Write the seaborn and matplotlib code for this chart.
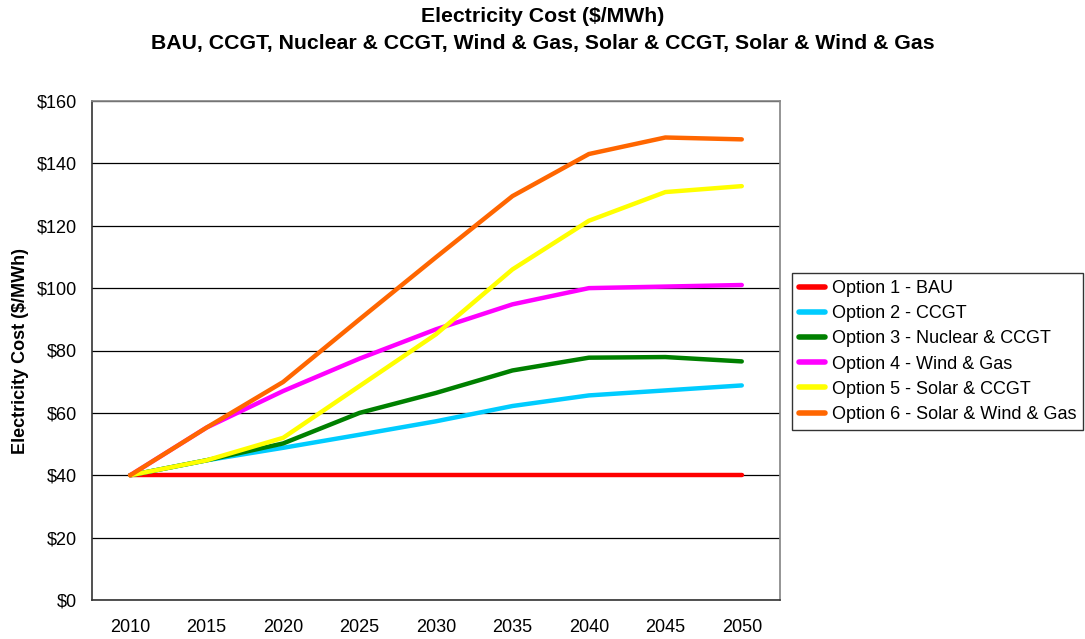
import matplotlib
matplotlib.use("Agg")
import matplotlib.pyplot as plt
import seaborn as sns
import pandas as pd
from matplotlib.ticker import FuncFormatter, FixedLocator

years = ["2010", "2015", "2020", "2025", "2030", "2035", "2040", "2045", "2050"]
opt1 = [40, 40, 40, 40, 40, 40, 40, 40, 40]
opt2 = [40, 44.8, 48.8, 53.0, 57.3, 62.2, 65.6, 67.2, 68.8]
opt3 = [40, 44.8, 50.2, 60.0, 66.4, 73.6, 77.7, 77.9, 76.5]
opt4 = [40, 55.3, 67.0, 77.4, 86.8, 94.8, 100.0, 100.5, 101.0]
opt5 = [40, 44.8, 52.0, 68.6, 85.2, 106.0, 121.6, 130.8, 132.7]
opt6 = [40, 55.3, 69.9, 90.0, 109.9, 129.5, 143.0, 148.3, 147.7]
names = ["Option 1 - BAU", "Option 2 - CCGT", "Option 3 - Nuclear & CCGT",
         "Option 4 - Wind & Gas", "Option 5 - Solar & CCGT", "Option 6 - Solar & Wind & Gas"]
colors = ["#FF0000", "#00CCFF", "#008000", "#FF00FF", "#FFFF00", "#FF6600"]

series = [opt1, opt2, opt3, opt4, opt5, opt6]
rows = []
for n, s in zip(names, series):
    for i, (y, v) in enumerate(zip(years, s)):
        rows.append({"pos": i, "Year": y, "Cost": v, "Option": n})
df = pd.DataFrame(rows)

sns.set_theme(style="white")
plt.rcParams["font.family"] = ["Liberation Sans", "DejaVu Sans"]
plt.rcParams["text.color"] = "black"
plt.rcParams["axes.labelcolor"] = "black"
plt.rcParams["xtick.color"] = "black"
plt.rcParams["ytick.color"] = "black"

fig = plt.figure(figsize=(10.85, 6.39), dpi=100)
ax = fig.add_axes([92/1085, 39/639, 688/1085, 499/639])

sns.lineplot(data=df, x="pos", y="Cost", hue="Option", hue_order=names,
             palette=colors, linewidth=3.2, ax=ax, sort=False, legend=True)

ax.set_xlim(-0.5, 8.5)
ax.set_ylim(0, 160)
ax.set_yticks(range(0, 161, 20))
ax.yaxis.set_major_formatter(FuncFormatter(lambda v, p: f"${int(v)}"))
ax.grid(axis="y", color="#000000", linewidth=0.9)
ax.set_axisbelow(True)

ax.set_xticks(range(len(years)))
ax.set_xticklabels(years)
ax.xaxis.set_minor_locator(FixedLocator([i - 0.5 for i in range(len(years) + 1)]))
ax.tick_params(axis="x", which="major", length=0, labelsize=13, pad=14, labelcolor="black")
ax.tick_params(axis="x", which="minor", length=5, width=1, color="#333333", direction="out")
ax.tick_params(axis="y", which="major", length=5, width=1, color="#333333", labelsize=13,
               direction="out", pad=6, labelcolor="black")

for side in ["left", "bottom"]:
    ax.spines[side].set_color("#333333")
    ax.spines[side].set_linewidth(1.2)
ax.spines["right"].set_color("#888888")
ax.spines["top"].set_color("#888888")

ax.set_xlabel("")
ax.set_ylabel("Electricity Cost ($/MWh)", fontsize=13, fontweight="bold", labelpad=5.5,
              color="black")

fig.text(0.5, 1 - 17/639, "Electricity Cost ($/MWh)", ha="center", va="center",
         fontsize=15.3, fontweight="bold", color="black")
fig.text(0.5, 1 - 44/639,
         "BAU, CCGT, Nuclear & CCGT, Wind & Gas, Solar & CCGT, Solar & Wind & Gas",
         ha="center", va="center", fontsize=15.3, fontweight="bold", color="black")

leg = ax.legend(loc="upper left", bbox_to_anchor=(792/1085, 1 - 273/639),
                bbox_transform=fig.transFigure, frameon=True, fancybox=False,
                edgecolor="black", fontsize=13, handlelength=1.45, handletextpad=0.35,
                borderpad=0.4, labelspacing=0.45, borderaxespad=0)
leg.get_frame().set_linewidth(1.0)
for h in leg.get_lines():
    h.set_linewidth(4)
for t in leg.get_texts():
    t.set_color("black")

fig.savefig("out.png", dpi=100, facecolor="white")
